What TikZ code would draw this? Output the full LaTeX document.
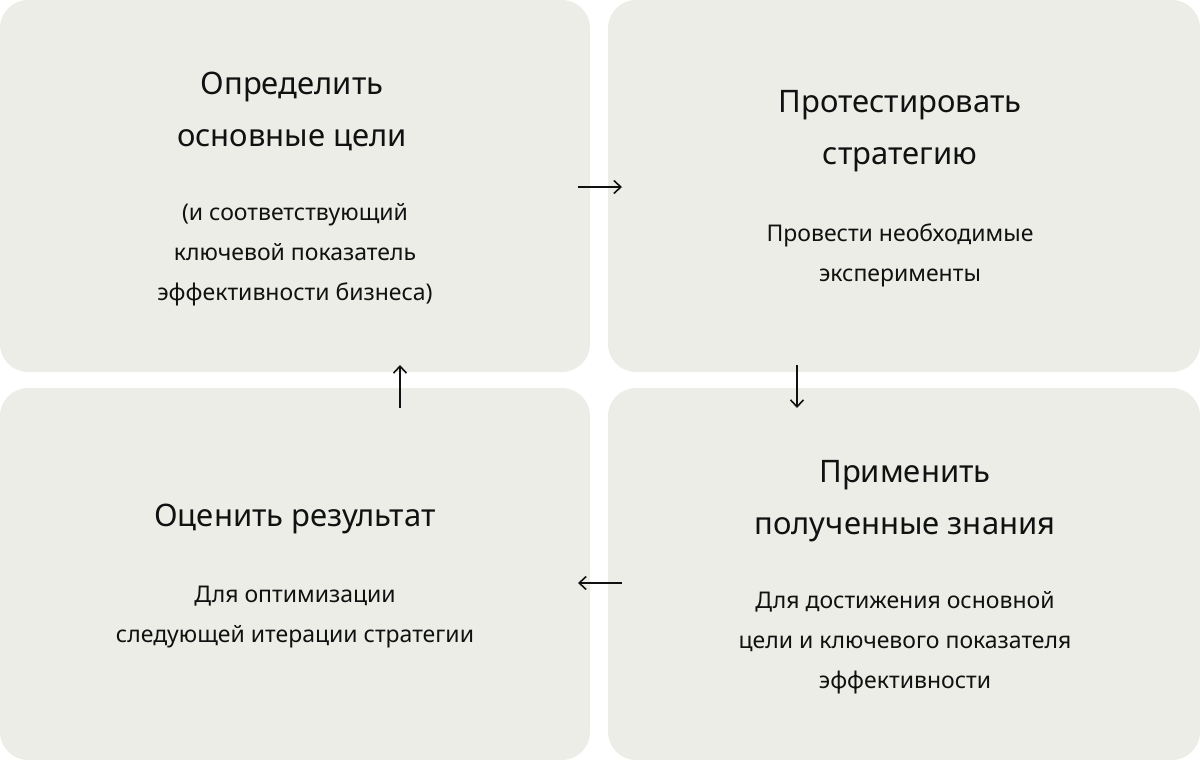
\documentclass[tikz,border=0pt]{standalone}
\usepackage{fontspec}
\setmainfont{Noto Sans}
\usetikzlibrary{arrows.meta}
\definecolor{boxc}{HTML}{EDEDE8}
\definecolor{txt}{HTML}{111111}
\begin{document}
\begin{tikzpicture}[x=1pt,y=-1pt,
  card/.style={fill=boxc,rounded corners=28pt},
  ttl/.style={text=txt,align=center,font=\fontsize{31}{52}\selectfont\bfseries,inner sep=0},
  bod/.style={text=txt,align=center,font=\fontsize{23}{40}\selectfont,inner sep=0},
  arr/.style={draw=txt,line width=1.6pt,-{Straight Barb[length=7pt,width=13pt]}}]
\useasboundingbox (0,0) rectangle (1200,760);
\fill[card] (0,0) rectangle (590,372);
\fill[card] (608,0) rectangle (1200,372);
\fill[card] (0,388) rectangle (590,760);
\fill[card] (608,388) rectangle (1200,760);
\node[ttl] (t1) at (292,111) {Определить\\основные цели};
\node[bod] (b1) at (295,255) {(и соответствующий\\ключевой показатель\\эффективности бизнеса)};
\node[ttl] (t2) at (900,131) {Протестировать\\стратегию};
\node[bod] (b2) at (900,255) {Провести необходимые\\эксперименты};
\node[ttl] (t3) at (295,519) {Оценить результат};
\node[bod] (b3) at (295,617) {Для оптимизации\\следующей итерации стратегии};
\node[ttl] (t4) at (905,501) {Применить\\полученные знания};
\node[bod] (b4) at (905,643) {Для достижения основной\\цели и ключевого показателя\\эффективности};
\coordinate (a1) at (578,187); \coordinate (a2) at (622,187);
\coordinate (d1) at (797,365); \coordinate (d2) at (797,408);
\coordinate (l1) at (622,583); \coordinate (l2) at (578,583);
\coordinate (u1) at (400,408); \coordinate (u2) at (400,365);
\draw[arr] (a1) -- (a2);
\draw[arr] (d1) -- (d2);
\draw[arr] (l1) -- (l2);
\draw[arr] (u1) -- (u2);
\end{tikzpicture}
\end{document}
